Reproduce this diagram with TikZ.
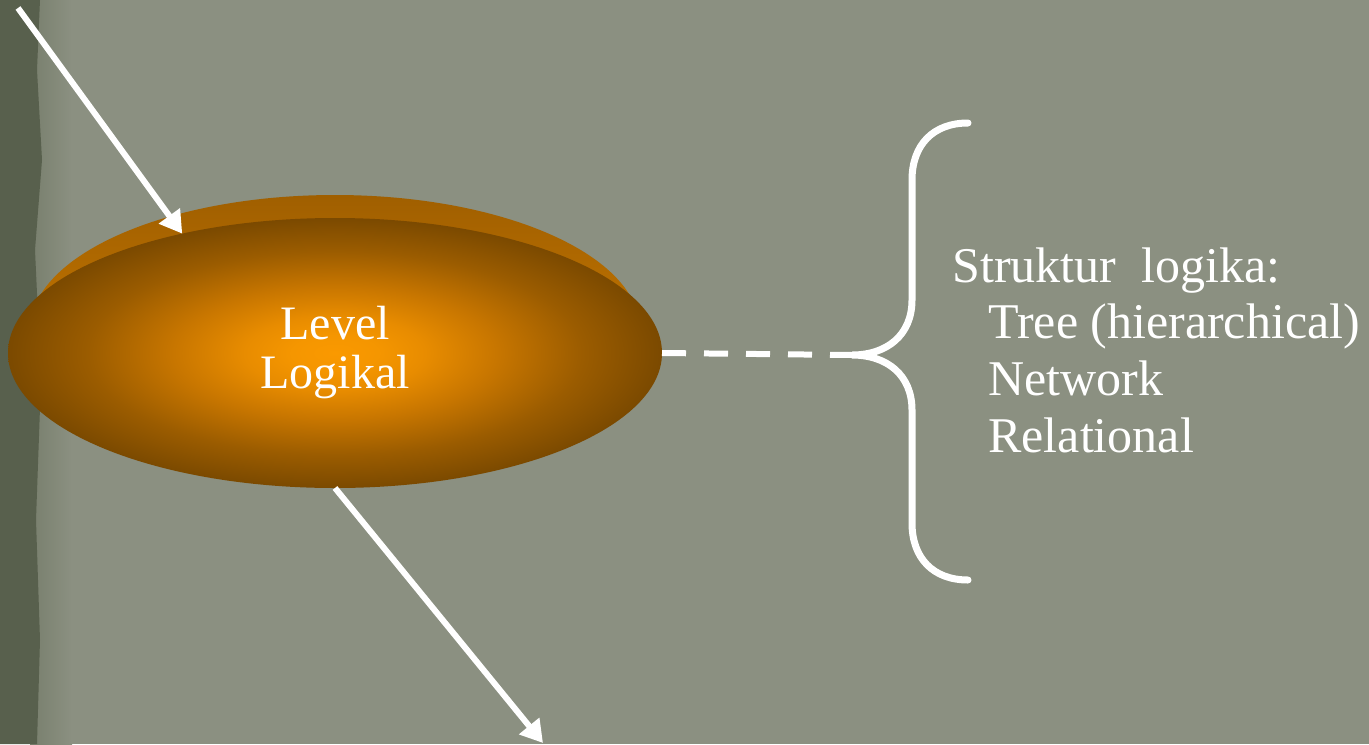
\documentclass[tikz,border=0pt]{standalone}
\usepackage{fontspec}
\setmainfont{Liberation Serif}
\usepackage{tikz}
\usetikzlibrary{positioning,arrows.meta,shapes.geometric}

\definecolor{wall}{RGB}{139,144,129}
\definecolor{wallband}{RGB}{120,127,109}
\definecolor{wallshade}{RGB}{88,96,77}
\definecolor{rimtop}{RGB}{160,95,0}
\definecolor{rimlow}{RGB}{222,134,0}
\pgfdeclareradialshading{disc}{\pgfpoint{0bp}{0bp}}{%
  rgb(0bp)=(.980,.600,0); rgb(3.3bp)=(.961,.588,0); rgb(6.9bp)=(.910,.549,0);
  rgb(12.3bp)=(.784,.463,0); rgb(18.9bp)=(.608,.361,0); rgb(25.2bp)=(.478,.286,0);
  rgb(30bp)=(.459,.275,0); rgb(50bp)=(.459,.275,0)}

\begin{document}
\begin{tikzpicture}
          [x=0.5pt,y=-0.5pt,
           disc/.style={ellipse,inner sep=0pt,outer sep=0pt,
                        minimum width=327pt,minimum height=135pt},
           rim/.style={ellipse,inner sep=0pt,outer sep=0pt,
                       minimum width=305pt,minimum height=135pt,
                       top color=rimtop,bottom color=rimlow},
           disc text/.style={text=white,align=center,
                             font=\fontsize{24}{24.5}\selectfont},
           item/.style={text=white,inner sep=0pt,anchor=base west,
                        font=\fontsize{25}{28}\selectfont},
           wire/.style={draw=white,line width=3pt},
           brace line/.style={draw=white,line width=3.5pt,line cap=round},
           >={Triangle[length=11pt,width=12.5pt]}
          ]
          \useasboundingbox (0,0) rectangle (1369,744);
          \fill[wall] (0,0) rectangle (1369,744);
          % worn edge of the board
          \shade[left color=wallband,right color=wall] (30,0) rectangle (72,744);
          \fill[wallshade] (0,0) -- (40,0) -- (37,70) -- (42,160) -- (35,250)
            -- (41,380) -- (36,520) -- (40,640) -- (37,744) -- (0,744) -- cycle;

          \node[rim] (rim) at (335,330) {};
          \node[disc,shading=disc,disc text] (logikal) at (335,353) {Level\\Logikal};

          \coordinate (intail) at (18,8);
          \coordinate (outtip) at (543,743);
          \coordinate (bracetop) at (968,123);
          \coordinate (bracetip) at (852,355);
          \coordinate (bracebot) at (968,580);

          \draw[->,wire] (intail) -- (logikal.142);
          \draw[->,wire] (logikal.south) -- (outtip);
          \draw[wire,dash pattern=on 12pt off 9pt] (logikal.east) -- (bracetip);

          \draw[brace line] (bracetop)
            .. controls +(-35,0) and +(0,-35) .. ++(-56,57)
            -- ++(0,120)
            .. controls +(0,35) and +(35,0) .. (bracetip)
            .. controls +(35,0) and +(0,-35) .. ++(60,55)
            -- ++(0,113)
            .. controls +(0,35) and +(-35,0) .. (bracebot);

          \node[item] (struktur) at (952,282) {Struktur\ \ logika:};
          \node[item] (tree) at (988,338) {Tree (hierarchical)};
          \node[item] (network) at (988,395) {Network};
          \node[item] (relational) at (988,452) {Relational};
\end{tikzpicture}
\end{document}
